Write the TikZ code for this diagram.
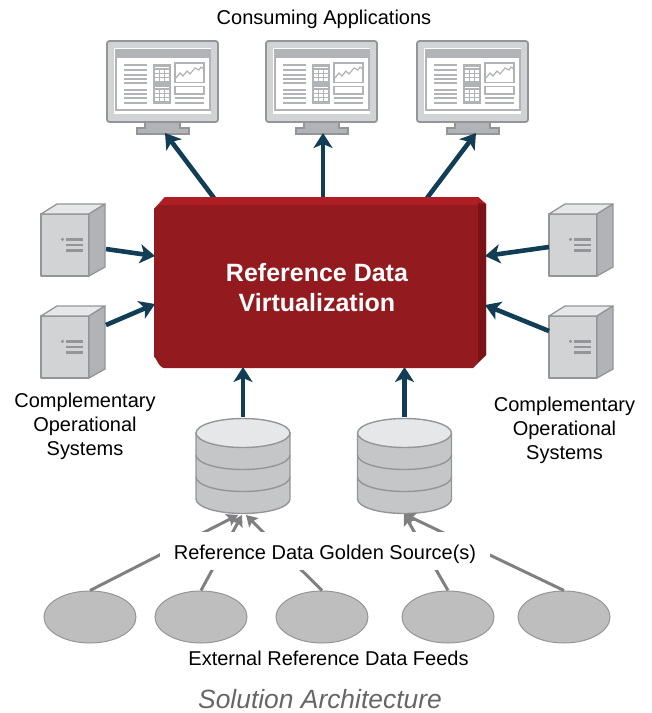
\documentclass[tikz,border=0pt]{standalone}
\usepackage{fontspec}
\setmainfont{Liberation Sans}
\usetikzlibrary{arrows.meta,shapes.geometric}
\definecolor{teal}{HTML}{123E55}
\definecolor{redmain}{HTML}{931A1E}
\definecolor{redtop}{HTML}{AE1E24}
\definecolor{reddark}{HTML}{7A1316}
\definecolor{gline}{HTML}{939598}
\definecolor{gfront}{HTML}{D1D3D4}
\definecolor{gtop}{HTML}{E6E7E8}
\definecolor{gside}{HTML}{B1B3B6}
\definecolor{feed}{HTML}{BEBEBE}
\definecolor{feedline}{HTML}{808080}
\tikzset{
  flow/.style={draw=teal,line width=4.6pt,-{Triangle[length=15pt,width=19pt,inset=4pt]}},
  feedarrow/.style={draw=feedline,line width=3pt,-{Triangle[length=11pt,width=13pt,inset=2pt]}},
  label/.style={font=\fontsize{20}{24}\selectfont,align=center,inner sep=0pt},
  feednode/.style={ellipse,draw=gline,fill=feed,line width=1pt,minimum width=92pt,minimum height=52pt,inner sep=0pt},
  srv/.style={draw=gline,line width=1.3pt,line join=round},
  pics/server/.style={code={
    \path[srv,fill=gfront] (0,0) rectangle (48,62);
    \path[srv,fill=gtop] (0,0) -- (16,-10) -- (64,-10) -- (48,0) -- cycle;
    \path[srv,fill=gside] (48,0) -- (64,-10) -- (64,53) -- (48,62) -- cycle;
    \fill[gline] (21.5,25.3) circle (1.8);
    \foreach \yy in {25.3,31,36.7}{\fill[gline] (25,\yy-1.3) rectangle (42,\yy+1.3);}
  }},
  pics/monitor/.style={code={
    \draw[draw=gline,line width=1.2pt,fill=gside] (30,87) -- (38,87) -- (38,81) -- (73,81) -- (73,87) -- (82,87) -- (82,93) -- (30,93) -- cycle;
    \draw[draw=gline,line width=1.8pt,fill=gfront,rounded corners=2.5pt] (0,0) rectangle (111,81);
    \fill[white] (6.7,6.7) rectangle (104.3,73);
    \draw[gside,line width=1.3pt] (9,9) rectangle (103,69);
    \fill[gside] (10,10) rectangle (102,17);
    \foreach \yy in {24,29,34,38.3,42.3,49,53.3,57.3,61.7}{\fill[gside] (17,\yy-1) rectangle (40,\yy+1);}
    \fill[gside] (45.7,23) rectangle (64,63);
    \foreach \yy in {26,46}{\fill[white] (47.5,\yy-.5) rectangle (62,\yy+.5);}
    \foreach \yy in {29,33,37,49,53,57}\foreach \xx in {48.3,53.3,58.3}{\fill[white] (\xx,\yy) rectangle (\xx+3.5,\yy+3);}
    \draw[gside,line width=1.2pt] (68,22) rectangle (97,41.7);
    \draw[gside,line width=1.2pt] (69,37) -- (73,32) -- (76,35) -- (80,30) -- (83,33) -- (88,27) -- (92,29) -- (94,26) -- (96.5,28);
    \draw[gside,line width=1.2pt] (68,45.7) rectangle (97,53);
    \foreach \yy in {57,62}{\fill[gside] (68,\yy-.8) rectangle (97,\yy+.8);}
  }},
  pics/database/.style={code={
    \draw[draw=gline,line width=1.4pt,fill=gside!40!gfront] (-47,15) -- (-47,81) arc[start angle=180,end angle=0,x radius=47,y radius=14.5] -- (47,15) -- cycle;
    \draw[gline,line width=1.4pt] (-47,37) arc[start angle=180,end angle=0,x radius=47,y radius=14.5];
    \draw[gline,line width=1.4pt] (-47,59) arc[start angle=180,end angle=0,x radius=47,y radius=14.5];
    \draw[draw=gline,line width=1.4pt,fill=gtop] (0,15) ellipse[x radius=47,y radius=14.5];
  }}
}
\begin{document}
\begin{tikzpicture}[x=1pt,y=-1pt]
\useasboundingbox (0,0) rectangle (652,713);
% monitors
\pic at (107,41) {monitor};
\pic at (266,41) {monitor};
\pic at (417,41) {monitor};
\coordinate (m1) at (165,133);
\coordinate (m2) at (323,133);
\coordinate (m3) at (476,133);
\coordinate (r1) at (214,198);
\coordinate (r2) at (323,198);
\coordinate (r3) at (427,198);
\draw[flow] (r1) -- (m1);
\draw[flow] (r2) -- (m2);
\draw[flow] (r3) -- (m3);
% red box
\fill[redmain] (154,209) -- (165,197) -- (478,197) -- (486,204) -- (486,355) -- (473,368) -- (164,368) to[out=180,in=90] (154,358) -- cycle;
\fill[redtop] (154,209) -- (165,197) -- (478,197) -- (486,204) -- (478,205) -- (160,205) -- (154,209) -- cycle;
\fill[reddark] (478,203) -- (486,204) -- (486,355) -- (478,362) -- cycle;
\node[font=\bfseries\fontsize{25}{30}\selectfont,text=white,align=center,inner sep=0pt] (rdv) at (317,288) {Reference Data\\Virtualization};
% servers
\pic at (41,214) {server};
\pic at (41,316) {server};
\pic at (549,214) {server};
\pic at (549,316) {server};
\coordinate (s1) at (106,249);
\coordinate (s2) at (106,325);
\coordinate (s3) at (549,247);
\coordinate (s4) at (549,331);
\coordinate (t1) at (155,256);
\coordinate (t2) at (155,304);
\coordinate (t3) at (485,256);
\coordinate (t4) at (485,305);
\draw[flow] (s1) -- (t1);
\draw[flow] (s2) -- (t2);
\draw[flow] (s3) -- (t3);
\draw[flow] (s4) -- (t4);
% databases
\pic at (243,418) {database};
\pic at (404.5,418) {database};
\coordinate (d1) at (243,417);
\coordinate (d2) at (404.5,417);
\coordinate (u1) at (243,367);
\coordinate (u2) at (404.5,367);
\draw[flow] (d1) -- (u1);
\draw[flow] (d2) -- (u2);
% feeds
\node[feednode] (e1) at (90,617) {};
\node[feednode] (e2) at (201,617) {};
\node[feednode] (e3) at (322,617) {};
\node[feednode] (e4) at (448,617) {};
\node[feednode] (e5) at (564,617) {};
\coordinate (a1) at (238,515);
\coordinate (a2) at (242,515);
\coordinate (a3) at (246,515);
\coordinate (a4) at (404,514);
\coordinate (a5) at (404,514);
\draw[feedarrow] (e1.north) -- (a1);
\draw[feedarrow] (e2.north) -- (a2);
\draw[feedarrow] (e3.north) -- (a3);
\draw[feedarrow] (e4.north) -- (a4);
\draw[feedarrow] (e5.north) -- (a5);
% labels
\fill[white] (160,532) rectangle (490,570);
\node[label] (gold) at (325,554) {Reference Data Golden Source(s)};
\node[label] (capps) at (324,19) {Consuming Applications};
\node[label] (cl) at (85,426) {Complementary\\Operational\\Systems};
\node[label] (cr) at (564.5,430) {Complementary\\Operational\\Systems};
\node[label] (ext) at (328.5,658) {External Reference Data Feeds};
\node[label,font=\itshape\fontsize{26.4}{30}\selectfont,text=black!60] (cap) at (320,699) {Solution Architecture};
\end{tikzpicture}
\end{document}
